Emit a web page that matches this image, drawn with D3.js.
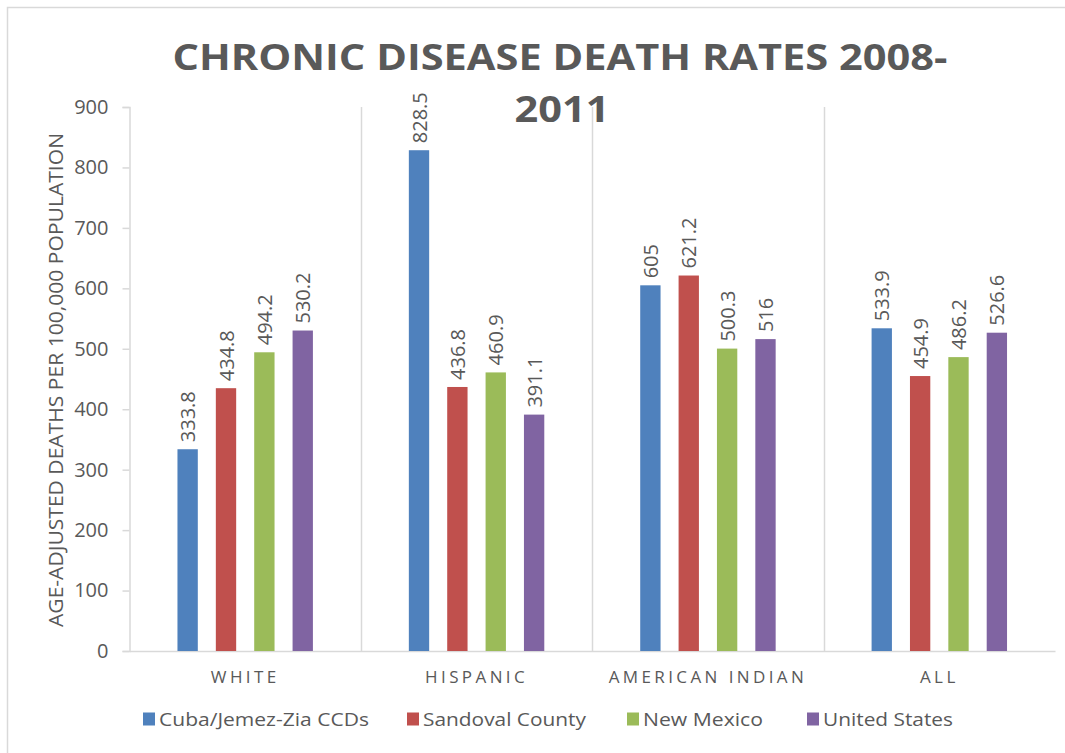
<!DOCTYPE html>
<html>
<head>
<meta charset="utf-8">
<script src="https://cdn.jsdelivr.net/npm/d3@7/dist/d3.min.js"></script>
<style>
  html, body { margin: 0; padding: 0; background: #fff; }
  svg { display: block; font-family: "Open Sans", "Noto Sans", sans-serif; }
</style>
</head>
<body>
<svg id="chart" width="1065" height="753"></svg>
<script>
// Age-adjusted chronic disease death rates per 100,000, 2008-2011
const categories = ["WHITE", "HISPANIC", "AMERICAN INDIAN", "ALL"];
const seriesNames = ["Cuba/Jemez-Zia CCDs", "Sandoval County", "New Mexico", "United States"];
const cubaJemezZia = [333.8, 828.5, 605, 533.9];
const sandovalCounty = [434.8, 436.8, 621.2, 454.9];
const newMexico = [494.2, 460.9, 500.3, 486.2];
const unitedStates = [530.2, 391.1, 516, 526.6];
const yTicks = [0, 100, 200, 300, 400, 500, 600, 700, 800, 900];

const seriesValues = [cubaJemezZia, sandovalCounty, newMexico, unitedStates];
const colors = ["#4F81BD", "#C0504D", "#9BBB59", "#8064A2"];

const svg = d3.select("#chart");
const margin = { left: 129.5, right: 1055, top: 107, bottom: 651 };

// Outer chart frame
svg.append("rect")
  .attr("x", 7.5).attr("y", 7.5)
  .attr("width", 1070).attr("height", 760)
  .attr("fill", "none").attr("stroke", "#D9D9D9").attr("stroke-width", 1.5);

const x = d3.scaleBand().domain(categories).range([margin.left, margin.right]).padding(0);
const x1 = d3.scaleBand().domain(d3.range(seriesNames.length))
  .range([0, x.bandwidth()]).paddingInner(0.47).paddingOuter(1.25);
const y = d3.scaleLinear().domain([0, 900]).range([margin.bottom, margin.top]);

// Category separators
svg.append("g").selectAll("line")
  .data(categories.slice(1))
  .join("line")
  .attr("x1", d => Math.round(x(d)) + 0.5).attr("x2", d => Math.round(x(d)) + 0.5)
  .attr("y1", y(900)).attr("y2", y(0))
  .attr("stroke", "#D9D9D9").attr("stroke-width", 1.5);

// Y axis
const yAxis = svg.append("g")
  .attr("transform", `translate(${margin.left},0)`)
  .call(d3.axisLeft(y).tickValues(yTicks).tickSize(7).tickPadding(14).tickFormat(d3.format("d")));
yAxis.select(".domain").attr("stroke", "#D9D9D9").attr("stroke-width", 1.5);
yAxis.selectAll(".tick line").attr("stroke", "#D9D9D9").attr("stroke-width", 1.5);
yAxis.selectAll(".tick text")
  .attr("fill", "#595959").attr("font-size", 20)
  .attr("font-family", "'Open Sans', sans-serif");

// X axis
const xAxis = svg.append("g")
  .attr("transform", `translate(0,${margin.bottom})`)
  .call(d3.axisBottom(x).tickSize(0).tickPadding(20));
xAxis.select(".domain").attr("stroke", "#D9D9D9").attr("stroke-width", 1.5);
xAxis.selectAll(".tick text")
  .attr("fill", "#595959").attr("font-size", 17)
  .attr("letter-spacing", "3.4px")
  .attr("font-family", "'Open Sans', sans-serif");

// Bars
const rows = [];
categories.forEach((c, ci) => {
  seriesValues.forEach((vals, si) => rows.push({ cat: c, s: si, v: vals[ci] }));
});

svg.append("g").selectAll("rect")
  .data(rows)
  .join("rect")
  .attr("x", d => x(d.cat) + x1(d.s))
  .attr("width", x1.bandwidth())
  .attr("y", d => y(d.v))
  .attr("height", d => y(0) - y(d.v))
  .attr("fill", d => colors[d.s]);

// Value labels, rotated above each bar
svg.append("g").selectAll("text")
  .data(rows)
  .join("text")
  .attr("transform", d => `translate(${x(d.cat) + x1(d.s) + x1.bandwidth() / 2},${y(d.v) - 7}) rotate(-90)`)
  .attr("dominant-baseline", "central")
  .attr("text-anchor", "start")
  .attr("fill", "#595959")
  .attr("font-size", 20)
  .text(d => d.v);

// Y axis title
svg.append("text")
  .attr("transform", `translate(55,380) rotate(-90)`)
  .attr("text-anchor", "middle")
  .attr("dominant-baseline", "central")
  .attr("fill", "#595959")
  .attr("font-size", 20)
  .attr("textLength", 494)
  .attr("lengthAdjust", "spacingAndGlyphs")
  .text("AGE-ADJUSTED DEATHS PER 100,000 POPULATION");

// Title (two lines)
svg.append("text")
  .attr("x", 560).attr("y", 70)
  .attr("text-anchor", "middle")
  .attr("fill", "#595959")
  .attr("font-size", 36).attr("font-weight", 700)
  .attr("textLength", 775)
  .attr("lengthAdjust", "spacingAndGlyphs")
  .text("CHRONIC DISEASE DEATH RATES 2008-");
svg.append("text")
  .attr("x", 562).attr("y", 122)
  .attr("text-anchor", "middle")
  .attr("fill", "#595959")
  .attr("font-size", 36).attr("font-weight", 700)
  .attr("textLength", 95)
  .attr("lengthAdjust", "spacingAndGlyphs")
  .text("2011");

// Legend
const legendX = [143, 407, 627, 807];
const legendW = [210, 163, 120, 130];
const legend = svg.append("g").selectAll("g")
  .data(seriesNames)
  .join("g")
  .attr("transform", (d, i) => `translate(${legendX[i]},719)`);
legend.append("rect")
  .attr("x", 0).attr("y", -6.5).attr("width", 12).attr("height", 13)
  .attr("fill", (d, i) => colors[i]);
legend.append("text")
  .attr("x", 16).attr("y", 0)
  .attr("dominant-baseline", "central")
  .attr("fill", "#595959")
  .attr("font-size", 19)
  .attr("textLength", (d, i) => legendW[i])
  .attr("lengthAdjust", "spacingAndGlyphs")
  .text(d => d);
</script>
</body>
</html>
